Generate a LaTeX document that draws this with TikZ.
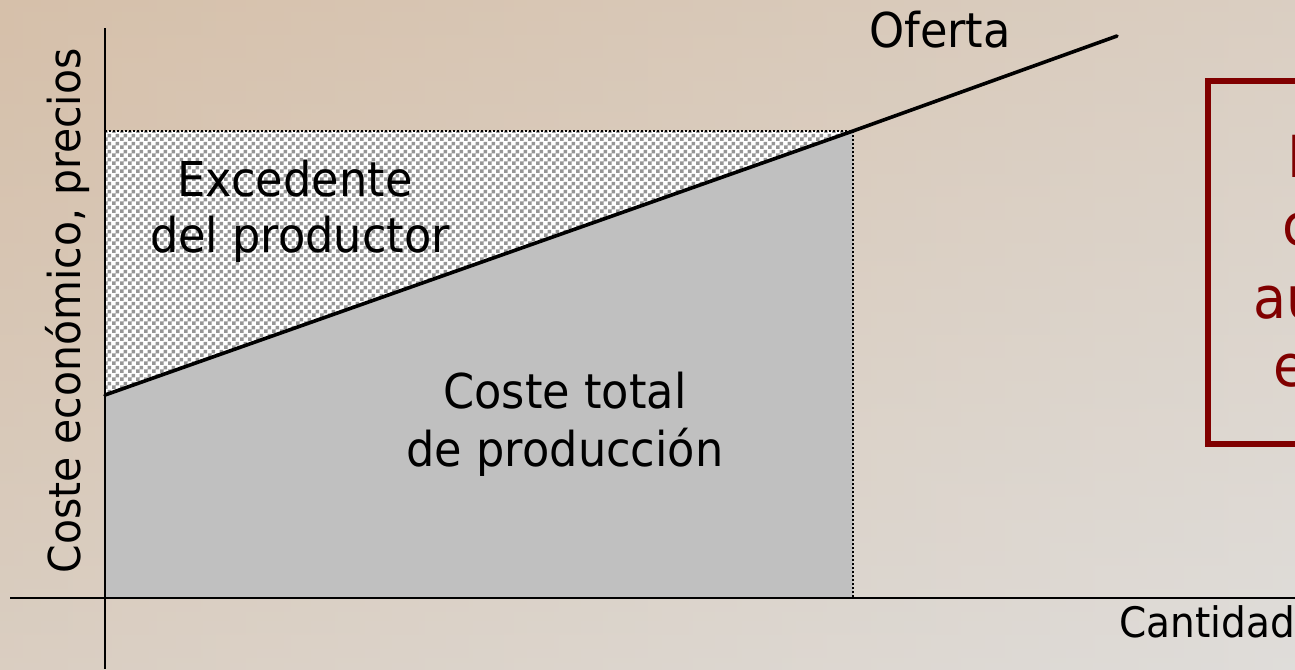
\documentclass[tikz,border=0pt]{standalone}
\usepackage{fontspec}
\setmainfont{DejaVu Sans}[FakeStretch=0.93]
\usetikzlibrary{patterns}
\pgfdeclarepatternformonly{finecheck}{\pgfpointorigin}{\pgfqpoint{4pt}{4pt}}{\pgfqpoint{4pt}{4pt}}{%
  \pgfpathrectangle{\pgfpointorigin}{\pgfqpoint{2pt}{2pt}}%
  \pgfpathrectangle{\pgfqpoint{2pt}{2pt}}{\pgfqpoint{2pt}{2pt}}%
  \pgfusepath{fill}}
\definecolor{bgA}{RGB}{214,192,170}
\definecolor{bgD}{RGB}{223,221,218}
\definecolor{costgray}{RGB}{192,192,192}
\definecolor{checkgray}{RGB}{150,150,150}
\definecolor{boxred}{RGB}{128,0,0}
\tikzset{
  lbl/.style={inner sep=0pt, font=\fontsize{24}{29}\selectfont, text=black},
  redtxt/.style={inner sep=0pt, anchor=base west, font=\fontsize{29}{35}\selectfont, text=boxred},
  axisline/.style={line width=1pt, draw=black},
  supply/.style={line width=1.8pt, draw=black, line cap=round},
  guide/.style={line width=1pt, draw=black, densely dotted}
}
\begin{document}
\begin{tikzpicture}[x=0.5pt,y=-0.5pt]
\useasboundingbox (0,0) rectangle (1295,669);
\clip (0,0) rectangle (1295,669);
\shade[top color=bgA, bottom color=bgD] (0,0) rectangle (1295,669);
\shade[left color=bgA, right color=bgD, opacity=0.5] (0,0) rectangle (1295,669);
% key points
\coordinate (S0) at (105,395);
\coordinate (E) at (853,131);
\coordinate (S1) at (1117,36);
\coordinate (PT) at (105,131);
\coordinate (QB) at (853,598);
\coordinate (O) at (105,598);
\coordinate (Ytop) at (105,28);
\coordinate (Ybot) at (105,669);
\coordinate (Xl) at (10,598);
\coordinate (Xr) at (1295,598);
% areas
\fill[white] (PT) -- (E) -- (S0) -- cycle;
\fill[pattern=finecheck, pattern color=checkgray] (PT) -- (E) -- (S0) -- cycle;
\fill[costgray] (S0) -- (E) -- (QB) -- (O) -- cycle;
\draw[guide] (PT) -- (E);
\draw[guide] (E) -- (QB);
% axes
\draw[axisline] (Ytop) -- (Ybot);
\draw[axisline] (Xl) -- (Xr);
% supply
\draw[supply] (S0) -- (E) -- (S1);
% labels
\node[lbl, anchor=base] (oferta) at (940,47) {Oferta};
\node[lbl, anchor=base] (exc1) at (295,196) {Excedente};
\node[lbl, anchor=base] (exc2) at (300,252) {del productor};
\node[lbl, anchor=base] (cost1) at (565,408) {Coste total};
\node[lbl, anchor=base] (cost2) at (565,466) {de producción};
\node[lbl, anchor=base, font=\fontsize{21}{25}\selectfont] (qty) at (1207,637) {Cantidad};
\node[lbl, anchor=base, rotate=90, font=\fontsize{22}{26}\selectfont] (ylab) at (80,311) {Coste económico, precios};
% red box
\draw[boxred, line width=2.6pt] (1400,81) -- (1208,81) -- (1208,444) -- (1400,444);
\node[redtxt] (r1) at (1287,177) {L};
\node[redtxt] (r2) at (1282,245) {c};
\node[redtxt] (r3) at (1253,318) {au};
\node[redtxt] (r4) at (1273,386) {e};
\end{tikzpicture}
\end{document}
